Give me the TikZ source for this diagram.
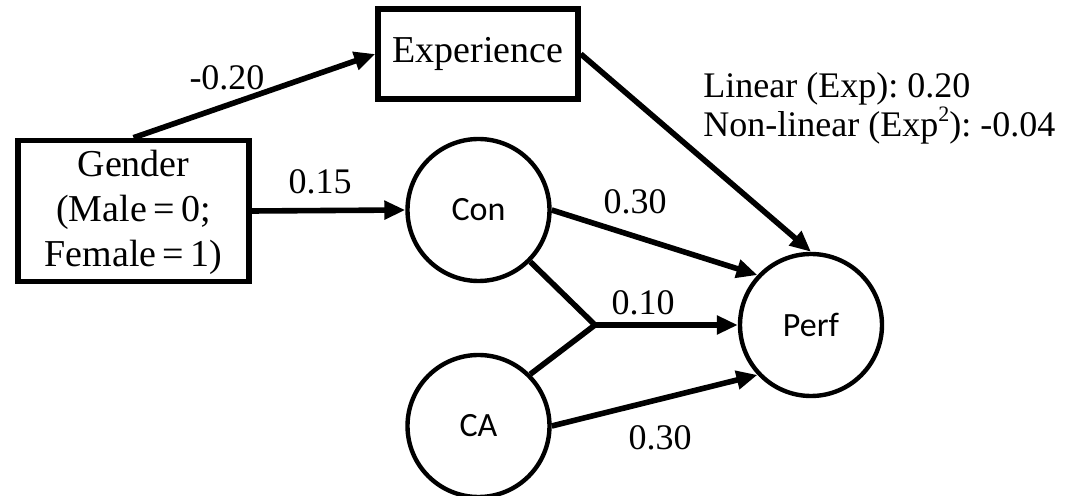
\documentclass[tikz,border=0pt]{standalone}
\usepackage{fontspec}
\setmainfont{Liberation Serif}
\newfontfamily\circfont{Carlito}
\usetikzlibrary{arrows.meta}
\frenchspacing
\newcommand{\supr}[1]{\raisebox{0.9ex}{\fontsize{11}{11}\selectfont #1}}
\begin{document}
\begin{tikzpicture}[x=0.5pt,y=-0.5pt,
  box/.style={draw,line width=2.8pt,align=center,inner sep=0pt,font=\fontsize{19}{22.5}\selectfont},
  var/.style={draw,circle,line width=2.2pt,minimum size=71pt,inner sep=0pt,font=\circfont\fontsize{17}{20}\selectfont},
  pathar/.style={line width=2.8pt,-{Triangle[length=10.5pt,width=9pt]}},
  link/.style={line width=2.8pt},
  lab/.style={font=\fontsize{18}{20}\selectfont,inner sep=0pt}]
\useasboundingbox (0,0) rectangle (1071,496);
\node[box,minimum width=115.5pt,minimum height=70.5pt] (gender) at (133.5,211) {\rule{0pt}{15pt}Gender\\(Male\,=\,0;\\Female\,=\,1)};
\node[box,minimum width=100pt,minimum height=45pt] (exp) at (478,54) {Experience};
\node[var] (con) at (478.5,210) {Con};
\node[var] (ca) at (478.5,426) {CA};
\node[var] (perf) at (811,325) {Perf};
\coordinate (j) at (595,325);
\draw[pathar] (gender.north) -- (exp.west);
\draw[pathar] (gender.east) -- (con.west);
\draw[pathar] (exp.east) -- (perf.north);
\draw[pathar] (con.east) -- (perf.137);
\draw[pathar] (ca.east) -- (perf.223);
\draw[link] (con.-45) -- (j);
\draw[link] (ca.45) -- (j);
\draw[pathar] (j) -- (perf.west);
\node[lab] (l1) at (227,78) {-0.20};
\node[lab] (l2) at (320,182) {0.15};
\node[lab] (l3) at (635,202) {0.30};
\node[lab] (l4) at (643,303) {0.10};
\node[lab] (l5) at (660,438) {0.30};
\node[lab,font=\fontsize{18}{18}\selectfont,align=left,anchor=west] (lin) at (703,108) {Linear (Exp): 0.20\\Non-linear (Exp\supr{2}): -0.04};
\end{tikzpicture}
\end{document}
